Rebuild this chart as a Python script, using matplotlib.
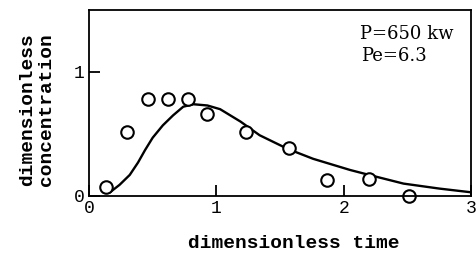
import matplotlib
matplotlib.use("Agg")
import matplotlib.pyplot as plt

# Pontos medidos (tempo e concentração adimensionais)
t_data = [0.13, 0.30, 0.46, 0.62, 0.78, 0.93, 1.23, 1.57, 1.87, 2.20, 2.51]
c_data = [0.07, 0.52, 0.78, 0.78, 0.78, 0.66, 0.52, 0.39, 0.13, 0.14, 0.00]

# Curva do modelo
t_curve = [0.165, 0.24, 0.32, 0.385, 0.44, 0.50, 0.58, 0.66, 0.74, 0.82,
           0.93, 1.03, 1.11, 1.19, 1.34, 1.56, 1.76, 2.05, 2.20, 2.47,
           2.75, 3.0]
c_curve = [0.03, 0.09, 0.17, 0.27, 0.37, 0.47, 0.57, 0.65, 0.72, 0.74,
           0.73, 0.70, 0.65, 0.60, 0.49, 0.38, 0.30, 0.21, 0.17, 0.10,
           0.06, 0.03]

x_ticks = [0, 1, 2, 3]
y_ticks = [0, 1]

fig = plt.figure(figsize=(4.77, 2.57), dpi=100)
ax = fig.add_axes([89 / 477, 1 - 196 / 257, 382 / 477, 186 / 257])

ax.plot(t_curve, c_curve, color="black", linewidth=1.7,
        solid_joinstyle="round", solid_capstyle="round")
ax.plot(t_data, c_data, linestyle="none", marker="o", markersize=9,
        markerfacecolor="white", markeredgecolor="black",
        markeredgewidth=1.5, clip_on=False)

ax.set_xlim(0, 3)
ax.set_ylim(0, 1.5)
ax.set_xticks(x_ticks)
ax.set_yticks(y_ticks)
ax.set_xticklabels([str(v) for v in x_ticks], family="Liberation Mono", fontsize=13)
ax.set_yticklabels([str(v) for v in y_ticks], family="Liberation Mono", fontsize=13)
ax.tick_params(direction="in", length=8, width=1.3, pad=3)
for s in ax.spines.values():
    s.set_linewidth(1.3)

# Parâmetros do ensaio
fig.text(360 / 477, 1 - 34 / 257, "P=650 kw", family="DejaVu Serif",
         fontsize=13, ha="left", va="center")
fig.text(361 / 477, 1 - 56 / 257, "Pe=6.3", family="DejaVu Serif",
         fontsize=13, ha="left", va="center")

fig.text(294 / 477, 1 - 243 / 257, "dimensionless time", family="Liberation Mono",
         fontweight="bold", fontsize=14, ha="center", va="center")
fig.text(37 / 477, 1 - 110 / 257, "dimensionless\nconcentration", family="Liberation Mono",
         fontweight="bold", fontsize=14, ha="center", va="center",
         rotation=90, linespacing=1.1)

fig.savefig("out.png", dpi=100)
plt.close(fig)
